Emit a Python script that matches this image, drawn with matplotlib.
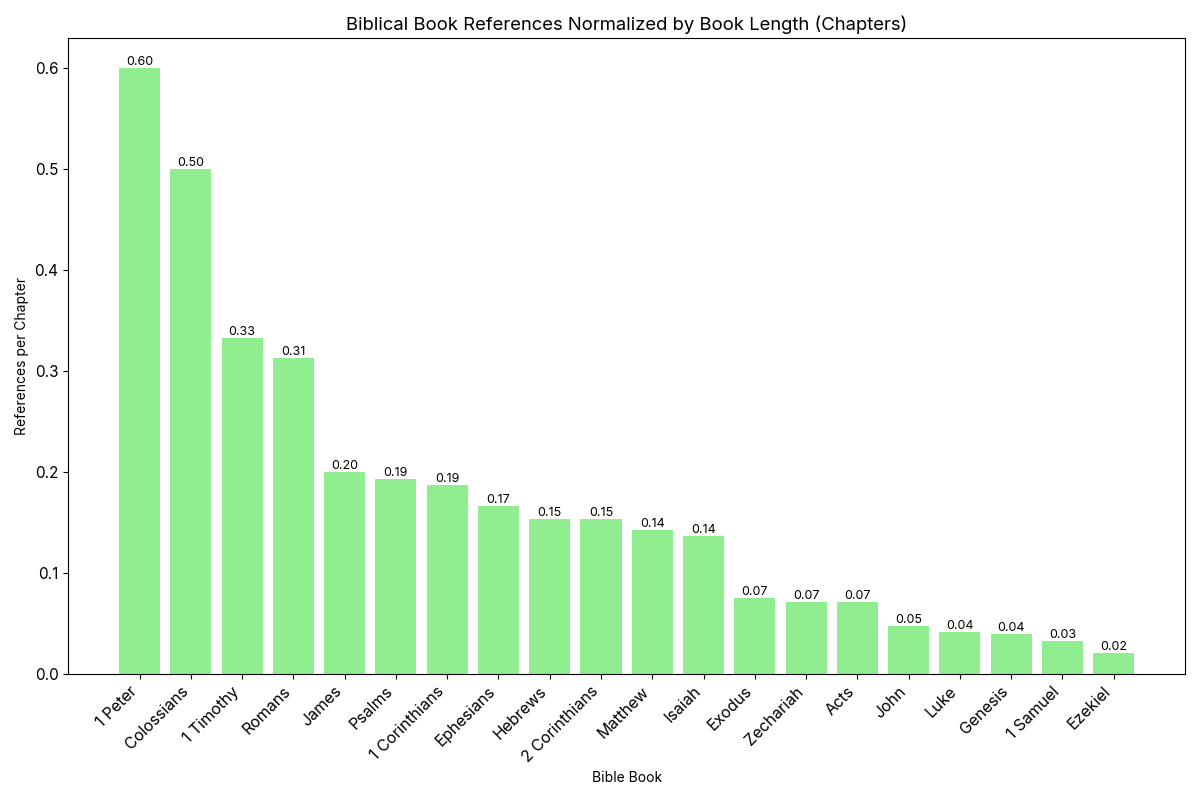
import matplotlib
matplotlib.use("Agg")
import matplotlib.pyplot as plt

plt.rcParams['font.family'] = ['Inter', 'DejaVu Sans']

books = ["1 Peter", "Colossians", "1 Timothy", "Romans", "James", "Psalms",
         "1 Corinthians", "Ephesians", "Hebrews", "2 Corinthians", "Matthew",
         "Isaiah", "Exodus", "Zechariah", "Acts", "John", "Luke", "Genesis",
         "1 Samuel", "Ezekiel"]
refs_per_chapter = [0.600, 0.500, 0.333, 0.3125, 0.200, 0.193,
                    0.1875, 0.1667, 0.1538, 0.1538, 0.1429,
                    0.1364, 0.075, 0.0714, 0.0714, 0.0476, 0.0417, 0.040,
                    0.0323, 0.0208]

fig, ax = plt.subplots(figsize=(12, 8), dpi=100)
bars = ax.bar(books, refs_per_chapter, color="lightgreen")
for b, v in zip(bars, refs_per_chapter):
    ax.annotate(f"{v:.2f}", (b.get_x() + b.get_width() / 2, v),
                ha="center", va="bottom", fontsize=9)
ax.set_title("Biblical Book References Normalized by Book Length (Chapters)", fontsize=13.3)
ax.set_xlabel("Bible Book", fontsize=10)
ax.set_ylabel("References per Chapter", fontsize=10)
plt.setp(ax.get_xticklabels(), rotation=45, ha="right", fontsize=11.5)
plt.setp(ax.get_yticklabels(), fontsize=11)
fig.tight_layout()
fig.savefig("out.png")
